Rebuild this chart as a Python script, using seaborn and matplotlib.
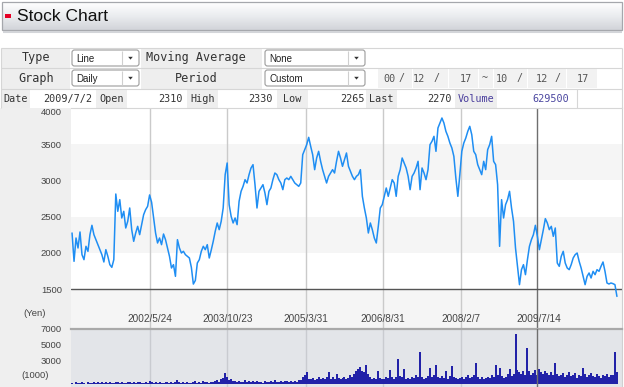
import numpy as np
import pandas as pd
import matplotlib
matplotlib.use("Agg")
import matplotlib.pyplot as plt
import matplotlib.dates as mdates
import matplotlib.transforms as mtransforms
from matplotlib.patches import Rectangle, FancyBboxPatch, Polygon
from matplotlib.colors import LinearSegmentedColormap
import seaborn as sns

# ---------------- data ----------------
period_start = "2000-12-17"
period_end = "2010-12-17"

price = [
    2275, 1884, 2206, 2068, 2289, 1976, 1907, 2091, 2022, 2252,
    2381, 2252, 2183, 2114, 2045, 1976, 1875, 2045, 1953, 1838,
    1801, 1907, 2813, 2574, 2735, 2482, 2574, 2344, 2436, 2620,
    2321, 2160, 2275, 2367, 2252, 2390, 2528, 2597, 2643, 2800,
    2700, 2482, 2275, 2137, 2206, 2114, 2261, 2183, 2068, 1953,
    1792, 1838, 1677, 2183, 2068, 1999, 2022, 1976, 1953, 1930,
    1800, 1570, 1620, 1861, 1907, 2022, 2091, 2045, 2114, 1930,
    2040, 2160, 2298, 2413, 2321, 2436, 2620, 3080, 3241, 2666,
    2505, 2413, 2482, 2390, 2712, 2850, 2919, 3011, 2965, 3080,
    3172, 3218, 2942, 2620, 2850, 2896, 2942, 2827, 2666, 2850,
    2896, 3011, 3103, 3080, 3011, 2965, 2873, 3011, 3034, 3011,
    3057, 3011, 2965, 2942, 2919, 2965, 3356, 3425, 3494, 3595,
    3471, 3356, 3149, 3310, 3402, 3264, 3149, 3057, 2965, 3057,
    3103, 3149, 3103, 3264, 3402, 3310, 3195, 3287, 3379, 3195,
    3126, 3057, 3011, 3057, 3080, 3149, 2781, 2620, 2482, 2275,
    2413, 2321, 2206, 2137, 2367, 2620, 2666, 2781, 2896, 2781,
    2896, 3011, 2965, 2781, 3057, 3149, 3310, 3241, 3172, 3057,
    2873, 3057, 3103, 3172, 3264, 2873, 3172, 3103, 3011, 3149,
    3494, 3540, 3609, 3402, 3724, 3793, 3862, 3793, 3678, 3609,
    3517, 3448, 3333, 3034, 2781, 3080, 3402, 3517, 3586, 3678,
    3747, 3632, 3402, 3356, 3218, 3149, 3080, 3264, 3149, 3425,
    3494, 3609, 3264, 3218, 2942, 2091, 2735, 2482, 2666, 2735,
    2850, 2620, 2436, 2068, 1815, 1562, 1769, 1838, 1700, 1907,
    2091, 2183, 2252, 2381, 2229, 2045, 2183, 2321, 2473, 2413,
    2321, 2367, 2229, 2344, 1861, 1815, 1953, 2022, 1861, 1792,
    1769, 1838, 1930, 1976, 1999, 1884, 1792, 1677, 1562, 1677,
    1723, 1654, 1746, 1700, 1769, 1746, 1815, 1875, 1746, 1585,
    1571, 1585, 1576, 1562, 1400,
]

volume = [
    120, 60, 200, 150, 80, 250, 180, 60, 220, 150,
    90, 260, 180, 300, 120, 200, 90, 240, 160, 280,
    150, 80, 300, 220, 120, 260, 180, 90, 240, 200,
    150, 280, 120, 210, 300, 160, 90, 250, 180, 320,
    200, 140, 260, 120, 230, 170, 90, 280, 200, 150,
    240, 180, 300, 520, 200, 150, 260, 120, 220, 180,
    90, 250, 340, 160, 230, 120, 380, 200, 260, 150,
    300, 220, 350, 480, 260, 620, 800, 1375, 900, 560,
    700, 420, 330, 260, 380, 220, 300, 450, 260, 350,
    200, 330, 280, 400, 250, 310, 180, 420, 300, 260,
    350, 220, 450, 300, 260, 380, 200, 330, 420, 280,
    350, 240, 400, 300, 450, 500, 900, 1100, 1550, 700,
    650, 800, 550, 700, 900, 600, 750, 650, 850, 1500,
    700, 900, 650, 1300, 800, 600, 750, 900, 650, 800,
    1100, 900, 1300, 1600, 1900, 2200, 1700, 1500, 2460, 1300,
    900, 700, 800, 650, 1650, 800, 700, 600, 900, 750,
    1800, 850, 700, 900, 3240, 1000, 850, 1900, 700, 800,
    650, 900, 750, 1100, 850, 4020, 900, 700, 800, 1000,
    2050, 850, 1200, 2460, 900, 750, 1000, 800, 1600, 700,
    1000, 2330, 900, 800, 650, 750, 900, 700, 850, 1100,
    800, 900, 1200, 2720, 900, 700, 850, 650, 750, 900,
    800, 1100, 900, 2460, 1200, 2050, 1000, 800, 900, 1300,
    1850, 1000, 1300, 6350, 1800, 1500, 1300, 1700, 1200, 4540,
    1600, 1200, 1400, 1800, 1200, 1900, 1500, 1300, 1700, 1400,
    1200, 1500, 1100, 2720, 1300, 1000, 1200, 1400, 900, 1100,
    1500, 1000, 1200, 1400, 800, 1100, 1000, 2075, 1300, 900,
    1100, 1400, 1000, 900, 1300, 1000, 800, 1200, 1000, 1300,
    900, 1100, 1200, 4020, 1500,
]

date_labels = ["2002/5/24", "2003/10/23", "2005/3/31", "2006/8/31", "2008/2/7", "2009/7/14"]
price_ticks = [1500, 2000, 2500, 3000, 3500, 4000]
volume_ticks = [3000, 5000, 7000]
volume_unit = "(1000)"
price_unit = "(Yen)"
cursor_date = "2009/7/2"
info_labels = ["Date", "Open", "High", "Low", "Last", "Volume"]
info_values = ["2009/7/2", "2310", "2330", "2265", "2270", "629500"]
period_from = ["00", "12", "17"]
period_to = ["10", "12", "17"]
form_labels = ["Type", "Moving Average", "Graph", "Period"]
form_choices = ["Line", "None", "Daily", "Custom"]
title = "Stock Chart"

# ---------------- style ----------------
sns.set_theme(style="white")
plt.rcParams["font.family"] = ["Liberation Sans", "DejaVu Sans"]
MONO = ["DejaVu Sans Mono", "Liberation Mono"]

W, H = 624, 387
fig = plt.figure(figsize=(W / 100, H / 100), dpi=100)
fig.patch.set_facecolor("white")


def px_axes(x0, y0, x1, y1):
    return fig.add_axes([x0 / W, 1 - y1 / H, (x1 - x0) / W, (y1 - y0) / H])


bg = px_axes(0, 0, W, H)
bg.axis("off")


def box(x0, y0, x1, y1, fc, ec="none", lw=0.8, z=1):
    bg.add_patch(Rectangle((x0, y0), x1 - x0, y1 - y0, facecolor=fc,
                           edgecolor=ec, linewidth=lw, zorder=z))


def hline(x0, x1, y, c, lw=0.8, z=2):
    bg.plot([x0, x1], [y, y], color=c, lw=lw, zorder=z, solid_capstyle="butt")


def vline(x, y0, y1, c, lw=0.8, z=2):
    bg.plot([x, x], [y0, y1], color=c, lw=lw, zorder=z, solid_capstyle="butt")


# ---- title bar ----
grad = np.linspace(0, 1, 64).reshape(-1, 1)
cmap = LinearSegmentedColormap.from_list("t", ["#ffffff", "#eaecef", "#d2d4d9"])
bg.imshow(grad, extent=(2, 622, 30, 2), cmap=cmap, aspect="auto", zorder=1,
          interpolation="bilinear")
box(2, 2, 622, 30, "none", ec="#a5a7ac", lw=0.9, z=2)
hline(3, 622, 31.5, "#d3d5d9", lw=1.5)
box(5, 14.3, 11, 17.7, "#e60026", z=3)
bg.text(17, 16.5, title, fontsize=12.5, ha="left", va="center", color="#111111", zorder=3)

# ---- form rows ----
LBL = "#eeeeee"
LINE = "#d6d6d6"
box(1, 48, 70, 67.5, LBL)
box(1, 67.5, 70, 88.5, LBL)
box(141, 48, 262, 67.5, LBL)
box(141, 67.5, 262, 88.5, LBL)
for y in [47.5, 67.5, 88.5]:
    hline(1, 622, y, LINE)
vline(1, 47.5, 108, LINE)
vline(622, 47.5, 108, LINE)

bg.text(36, 57.8, form_labels[0], family=MONO, fontsize=8.5, ha="center", va="center", color="#333")
bg.text(196, 57.8, form_labels[1], family=MONO, fontsize=8.5, ha="center", va="center", color="#333")
bg.text(36, 78.5, form_labels[2], family=MONO, fontsize=8.5, ha="center", va="center", color="#333")
bg.text(196, 78.5, form_labels[3], family=MONO, fontsize=8.5, ha="center", va="center", color="#333")


def select(x0, y0, x1, y1, text):
    bg.add_patch(FancyBboxPatch((x0, y0), x1 - x0, y1 - y0,
                                boxstyle="round,pad=0,rounding_size=2.5",
                                fc="white", ec="#9c9c9c", lw=0.8, zorder=3))
    ax_ = x1 - 17
    vline(ax_, y0 + 1, y1 - 1, "#cfcfcf", z=4)
    cx, cy = (ax_ + x1) / 2, (y0 + y1) / 2
    bg.add_patch(Polygon([[cx - 2.3, cy - 1.2], [cx + 2.3, cy - 1.2], [cx, cy + 1.6]],
                         closed=True, fc="#333333", ec="none", zorder=4))
    bg.text(x0 + 4, cy + 0.5, text, fontsize=7, ha="left", va="center", color="#222", zorder=4)


select(72, 50, 139, 66, form_choices[0])
select(265, 50, 365, 66, form_choices[1])
select(72, 70, 139, 86, form_choices[2])
select(265, 70, 365, 86, form_choices[3])

# period fields
cells = [(377, 412), (412, 448), (448, 478), (478, 493), (493, 527), (527, 566), (566, 597)]
for a, b in cells:
    box(a + 0.5, 69, b - 0.5, 87.5, "#f2f2f2")
texts = [(389, period_from[0]), (402, "/"), (419, period_from[1]), (437, "/"),
         (466, period_from[2]), (485, "~"), (502, period_to[0]), (520, "/"),
         (542, period_to[1]), (558, "/"), (583, period_to[2])]
for x, s in texts:
    bg.text(x, 78.5, s, family=MONO, fontsize=7.3, ha="center", va="center", color="#555")

# info row
lab_cells = [(1, 30), (96, 127), (187, 218), (277, 308), (366, 397), (455, 497)]
val_right = [92, 183, 273, 365, 452, 569]
for (a, b), lab, val, vr in zip(lab_cells, info_labels, info_values, val_right):
    box(a, 89, b, 107.5, LBL)
    col = "#4b3f9d" if lab == "Volume" else "#333"
    bg.text((a + b) / 2, 98.8, lab, family=MONO, fontsize=7.3, ha="center", va="center", color=col)
    vcol = "#4b47a0" if lab == "Volume" else "#333"
    bg.text(vr, 98.8, val, family=MONO, fontsize=7.3, ha="right", va="center", color=vcol)
vline(577, 88.5, 108, LINE)

# left column of chart
box(0, 108, 71, 387, "#efefef")
bg.text(35, 313, price_unit, fontsize=6.8, ha="center", va="center", color="#444")
bg.text(35, 375.5, volume_unit, fontsize=6.8, ha="center", va="center", color="#444")

bg.set_xlim(0, W)
bg.set_ylim(H, 0)

# ---------------- price panel ----------------
dates = pd.date_range(period_start, period_end, periods=len(price))
xnum = mdates.date2num(dates)
xlim = (mdates.date2num(pd.Timestamp("2000-12-10")), mdates.date2num(pd.Timestamp("2011-01-20")))
label_x = [mdates.date2num(pd.to_datetime(d, format="%Y/%m/%d")) for d in date_labels]
cursor_x = mdates.date2num(pd.to_datetime(cursor_date, format="%Y/%m/%d"))
# the cursor line replaces the light grid line right next to it
grid_x = [lx for lx in label_x if abs(lx - cursor_x) > 30]

df = pd.DataFrame({"t": xnum, "price": price, "volume": volume})

pax = px_axes(71, 108, 622, 329)
pax.set_facecolor("white")
PMIN = 950
pax.set_xlim(*xlim)
pax.set_ylim(PMIN, price_ticks[-1])
band_edges = [PMIN] + price_ticks
for i in range(0, len(band_edges) - 1, 2):
    pax.axhspan(band_edges[i], band_edges[i + 1], color="#f5f5f5", lw=0, zorder=0)
for lx in grid_x:
    pax.axvline(lx, color="#cacaca", lw=1, zorder=1)
pax.axvline(cursor_x, color="#6f6f6f", lw=1, zorder=2)
pax.axhline(price_ticks[0], color="#555555", lw=1, zorder=2)

sns.lineplot(data=df, x="t", y="price", ax=pax, color="#1f8ef3", lw=1.1, zorder=3)

trans = mtransforms.blended_transform_factory(pax.transData, pax.transAxes)
for lx, lab in zip(label_x, date_labels):
    pax.text(lx, 0.045, lab, transform=trans, fontsize=7.2, ha="center", va="center",
             color="#444", zorder=4)

pax.set_xlim(*xlim)
pax.set_ylim(PMIN, price_ticks[-1])
pax.set_xticks([])
pax.set_yticks(price_ticks)
pax.set_yticklabels([str(t) for t in price_ticks])
pax.tick_params(axis="y", length=0, pad=6.5, labelsize=6.8, labelcolor="#444")
for t in pax.get_yticklabels():
    if t.get_text() == str(price_ticks[-1]):
        t.set_va("top")
pax.set_xlabel("")
pax.set_ylabel("")
for s in ["left", "bottom"]:
    pax.spines[s].set_visible(False)
pax.spines["top"].set_color("#d6d6d6")
pax.spines["top"].set_linewidth(0.8)
pax.spines["right"].set_color("#d0d0d0")
pax.spines["right"].set_linewidth(0.8)

# ---------------- volume panel ----------------
vax = px_axes(71, 329, 622, 387)
vax.set_facecolor("#e3e5e9")
for lx in grid_x:
    vax.axvline(lx, color="#c9cbd0", lw=1, zorder=1)
vax.axvline(cursor_x, color="#6f6f6f", lw=1, zorder=4)
step = xnum[1] - xnum[0]
sns.histplot(data=df, x="t", weights="volume", binwidth=step,
             binrange=(xnum[0] - step / 2, xnum[-1] + step / 2), ax=vax,
             color="#2222a8", alpha=1, linewidth=0, element="bars", zorder=3)
vax.set_xlim(*xlim)
vax.set_ylim(-380, volume_ticks[-1])
vax.set_xticks([])
vax.set_yticks(volume_ticks)
vax.set_yticklabels([str(t) for t in volume_ticks])
vax.tick_params(axis="y", length=0, pad=6.5, labelsize=6.8, labelcolor="#444")
vax.set_xlabel("")
vax.set_ylabel("")
for s in ["left", "bottom"]:
    vax.spines[s].set_visible(False)
vax.spines["top"].set_color("#a9a9a9")
vax.spines["top"].set_linewidth(1.6)
vax.spines["right"].set_color("#d0d0d0")
vax.spines["right"].set_linewidth(0.8)

fig.savefig("out.png", dpi=100, facecolor="white")
